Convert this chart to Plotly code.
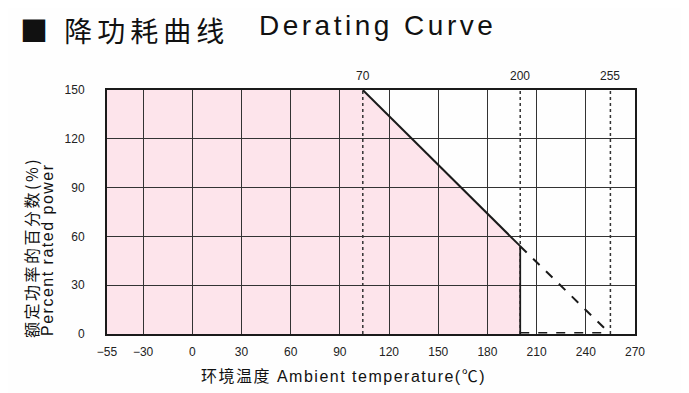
import plotly.graph_objects as go

# ---- data ----
x_tick_vals = [-52, -30, 0, 30, 60, 90, 120, 150, 180, 210, 240, 270]
x_tick_text = ["−55", "−30", "0", "30", "60", "90", "120", "150", "180", "210", "240", "270"]
y_tick_vals = [0, 30, 60, 90, 120, 150]
y_tick_text = ["0", "30", "60", "90", "120", "150"]

curve_x = [104, 200]          # solid derating segment
curve_y = [150, 54]
ext_x = [200, 255]            # dashed extrapolation to zero power
ext_y = [54, 0]
marker_temps = [104, 200, 255]
marker_labels = ["70", "200", "255"]

x_min, x_max = -52, 270
y_min, y_max = 0, 150

# ---- layout geometry (pixels, page coords; page body has an 8px margin) ----
OFF = 8
W, H = 689 - OFF, 393 - OFF
L, R, T, B = 107 - OFF, 54, 90 - OFF, 59
PW, PH = W - L - R, H - T - B


def px(x):
    return (x - OFF - L) / PW


def py(y):
    return (H - B - (y - OFF)) / PH


LINE = "#1a1a1a"
GRID = "#333333"
PINK = "#fde4eb"
FONT = "Liberation Sans, Arial, Noto Sans CJK SC, sans-serif"
CJK = "Noto Sans CJK SC, Liberation Sans, sans-serif"

fig = go.Figure()

# dotted reference verticals
for t in marker_temps:
    fig.add_trace(go.Scatter(x=[t, t], y=[y_min, y_max], mode="lines",
                             line=dict(color=GRID, width=1.5, dash="dot"),
                             hoverinfo="skip", showlegend=False))

# solid vertical at the end of the rated zone
fig.add_trace(go.Scatter(x=[curve_x[-1], curve_x[-1]], y=[y_min, curve_y[-1]], mode="lines",
                         line=dict(color=LINE, width=1.8), hoverinfo="skip", showlegend=False))
# solid derating line
fig.add_trace(go.Scatter(x=curve_x, y=curve_y, mode="lines",
                         line=dict(color=LINE, width=2), hoverinfo="skip", showlegend=False))
# dashed extrapolation
fig.add_trace(go.Scatter(x=ext_x, y=ext_y, mode="lines",
                         line=dict(color=LINE, width=2, dash="dash"), hoverinfo="skip", showlegend=False))
fig.add_trace(go.Scatter(x=ext_x, y=[y_min + 0.8, y_min + 0.8], mode="lines",
                         line=dict(color=LINE, width=1.5, dash="dash"), hoverinfo="skip", showlegend=False))

# pink operating area (below gridlines)
path = f"M {x_min},{y_max} L {curve_x[0]},{curve_y[0]} L {curve_x[-1]},{curve_y[-1]} " \
       f"L {curve_x[-1]},{y_min} L {x_min},{y_min} Z"
fig.add_shape(type="path", path=path, xref="x", yref="y", fillcolor=PINK,
              line=dict(width=0), layer="below")

ann = []
# marker labels above plot
for t, lab in zip(marker_temps, marker_labels):
    ann.append(dict(x=t, xref="x", y=py(76), yref="paper", text=lab, showarrow=False,
                    xanchor="center", yanchor="middle", font=dict(size=12, color="#222", family=FONT)))

# title
ann.append(dict(x=px(18), y=py(OFF + 0.5), xref="paper", yref="paper", showarrow=False,
                xanchor="left", yanchor="top",
                text="<span style='letter-spacing:5px'>■ 降功耗曲线</span>",
                font=dict(size=28, color="#111", family=CJK)))
ann.append(dict(x=px(257), y=py(26), xref="paper", yref="paper", showarrow=False,
                xanchor="left", yanchor="middle",
                text="<span style='letter-spacing:3.5px'>Derating Curve</span>",
                font=dict(size=28, color="#111", family=FONT)))

# y axis titles
ann.append(dict(x=px(31), y=py(248), xref="paper", yref="paper", showarrow=False,
                textangle=-90, xanchor="center", yanchor="middle",
                text="<span style='letter-spacing:2.5px'>额定功率的百分数(%)</span>",
                font=dict(size=16, color="#111", family=CJK)))
ann.append(dict(x=px(47), y=py(250), xref="paper", yref="paper", showarrow=False,
                textangle=-90, xanchor="center", yanchor="middle",
                text="<span style='letter-spacing:1.5px'>Percent rated power</span>",
                font=dict(size=16, color="#111", family=FONT)))

# x axis title
ann.append(dict(x=px(343), y=py(376), xref="paper", yref="paper", showarrow=False,
                xanchor="center", yanchor="middle",
                text="<span style='letter-spacing:1.5px'>环境温度 Ambient temperature(℃)</span>",
                font=dict(size=16, color="#111", family=FONT + ", Noto Sans CJK SC")))

fig.update_layout(
    width=W, height=H,
    margin=dict(l=L, r=R, t=T, b=B, pad=0),
    paper_bgcolor="#fefefe", plot_bgcolor="#fefefe",
    showlegend=False,
    annotations=ann,
    xaxis=dict(range=[x_min, x_max], tickvals=x_tick_vals, ticktext=x_tick_text,
               showgrid=True, gridcolor=GRID, gridwidth=1.3, zeroline=False,
               showline=True, linecolor=LINE, linewidth=2, mirror=True,
               ticks="", ticklabelstandoff=6,
               tickfont=dict(size=12, color="#222", family=FONT)),
    yaxis=dict(range=[y_min, y_max], tickvals=y_tick_vals, ticktext=y_tick_text,
               showgrid=True, gridcolor=GRID, gridwidth=1.3, zeroline=False,
               showline=True, linecolor=LINE, linewidth=2, mirror=True,
               ticks="", ticklabelstandoff=18,
               tickfont=dict(size=12, color="#222", family=FONT)),
)

fig.write_html("out.html")
